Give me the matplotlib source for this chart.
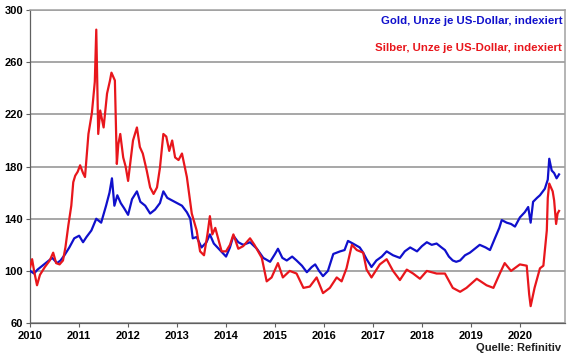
import matplotlib
matplotlib.use("Agg")
import matplotlib.pyplot as plt

# values (decimal years, index 2010 = 100)
gold_dates = [2010.0, 2010.08, 2010.15, 2010.25, 2010.35, 2010.45, 2010.55, 2010.62, 2010.7, 2010.8,
              2010.9, 2011.0, 2011.08, 2011.15, 2011.25, 2011.35, 2011.45, 2011.55, 2011.62, 2011.67,
              2011.72, 2011.78, 2011.85, 2011.92, 2012.0, 2012.08, 2012.18, 2012.25, 2012.35, 2012.45,
              2012.55, 2012.65, 2012.72, 2012.8, 2012.9, 2013.0, 2013.1, 2013.2, 2013.27, 2013.32,
              2013.4, 2013.5, 2013.6, 2013.67, 2013.75, 2013.85, 2014.0, 2014.08, 2014.15, 2014.25,
              2014.35, 2014.49, 2014.63, 2014.76, 2014.9, 2015.0, 2015.06, 2015.15, 2015.24, 2015.35,
              2015.44, 2015.55, 2015.65, 2015.75, 2015.82, 2015.9, 2015.98, 2016.08, 2016.19, 2016.33,
              2016.42, 2016.49, 2016.59, 2016.73, 2016.8, 2016.87, 2016.97, 2017.07, 2017.18, 2017.28,
              2017.41, 2017.55, 2017.65, 2017.76, 2017.9, 2018.0, 2018.1, 2018.2, 2018.3, 2018.4,
              2018.47, 2018.55, 2018.63, 2018.7, 2018.78, 2018.88, 2018.98, 2019.08, 2019.18, 2019.3,
              2019.39, 2019.49, 2019.58, 2019.63, 2019.73, 2019.82, 2019.9, 2020.0, 2020.1, 2020.17,
              2020.22, 2020.27, 2020.35, 2020.41, 2020.51, 2020.57, 2020.6, 2020.65, 2020.7, 2020.75,
              2020.8]
gold_values = [100, 98, 101, 104, 107, 110, 106, 108, 112, 118,
               125, 127, 122, 126, 131, 140, 137, 150, 160, 171,
               150, 158, 152, 148, 143, 155, 161, 153, 150, 144,
               147, 152, 161, 156, 154, 152, 150, 145, 140, 125,
               126, 118, 122, 128, 121, 117, 111, 118, 127, 122,
               120, 122, 117, 110, 107, 113, 117, 110, 108, 111,
               108, 104, 99, 103, 105, 100, 96, 100, 113, 115,
               116, 123, 121, 118, 114, 109, 103, 108, 111, 115,
               112, 110, 115, 118, 115, 119, 122, 120, 121, 118,
               116, 111, 108, 107, 108, 112, 114, 117, 120, 118,
               116, 125, 133, 139, 137, 136, 134, 141, 145, 149,
               137, 153, 156, 158, 163, 170, 186, 177, 175, 171,
               174]

silver_dates = [2010.0, 2010.04, 2010.08, 2010.14, 2010.2, 2010.3, 2010.4, 2010.47, 2010.53, 2010.6,
                2010.67, 2010.72, 2010.78, 2010.84, 2010.88, 2010.92, 2010.97, 2011.02, 2011.08, 2011.12,
                2011.19, 2011.26, 2011.32, 2011.35, 2011.39, 2011.43, 2011.5, 2011.57, 2011.63, 2011.66,
                2011.73, 2011.77, 2011.8, 2011.84, 2011.9, 2011.95, 2012.0, 2012.1, 2012.18, 2012.24,
                2012.3, 2012.38, 2012.45, 2012.52, 2012.59, 2012.65, 2012.72, 2012.78, 2012.84, 2012.9,
                2012.96, 2013.03, 2013.1, 2013.2, 2013.3, 2013.4, 2013.47, 2013.55, 2013.62, 2013.67,
                2013.72, 2013.78, 2013.91, 2014.0, 2014.08, 2014.15, 2014.25, 2014.35, 2014.49, 2014.58,
                2014.73, 2014.83, 2014.93, 2015.06, 2015.16, 2015.3, 2015.44, 2015.58, 2015.71, 2015.85,
                2015.98, 2016.12, 2016.26, 2016.36, 2016.46, 2016.57, 2016.67, 2016.8, 2016.87, 2016.97,
                2017.14, 2017.28, 2017.41, 2017.55, 2017.69, 2017.82, 2017.96, 2018.1, 2018.3, 2018.47,
                2018.63, 2018.78, 2018.91, 2019.12, 2019.32, 2019.46, 2019.59, 2019.69, 2019.82, 2020.0,
                2020.14, 2020.19, 2020.22, 2020.3, 2020.41, 2020.48, 2020.55, 2020.57, 2020.6, 2020.67,
                2020.7, 2020.74, 2020.77, 2020.8]
silver_values = [103, 109, 100, 89, 97, 103, 108, 114, 106, 105,
                 108, 118, 135, 150, 168, 173, 176, 181, 175, 172,
                 205, 221, 245, 285, 205, 223, 210, 236, 246, 252,
                 246, 182, 197, 205, 187, 180, 169, 200, 210, 195,
                 190, 177, 164, 159, 164, 179, 205, 203, 192, 200,
                 187, 185, 190, 172, 144, 131, 115, 112, 128, 142,
                 128, 133, 115, 115, 120, 128, 117, 119, 125, 120,
                 110, 92, 95, 106, 95, 100, 98, 87, 88, 95,
                 83, 87, 95, 92, 102, 120, 116, 114, 101, 95,
                 105, 109, 100, 93, 101, 98, 94, 100, 98, 98,
                 87, 84, 87, 94, 89, 87, 98, 106, 100, 105,
                 104, 82, 73, 87, 102, 104, 131, 156, 167, 161,
                 154, 136, 144, 146]

year_ticks = list(range(2010, 2021))
value_ticks = [60, 100, 140, 180, 220, 260, 300]

GOLD = "#1010cc"
SILVER = "#e8161c"

plt.rcParams["font.family"] = ["Liberation Sans", "DejaVu Sans"]
plt.rcParams["font.weight"] = "bold"

fig = plt.figure(figsize=(5.8, 3.59), dpi=100)
ax = fig.add_axes([0.052, 0.100, 0.922, 0.872])

ax.plot(gold_dates, gold_values, color=GOLD, lw=1.6, zorder=3)
ax.plot(silver_dates, silver_values, color=SILVER, lw=1.6, zorder=3)

ax.set_xlim(2010, 2020.92)
ax.set_ylim(60, 300)
ax.set_xticks(year_ticks)
ax.set_xticklabels([str(y) for y in year_ticks])
ax.set_yticks(value_ticks)
ax.tick_params(axis="both", labelsize=8, length=3, width=0.8, color="#606060", pad=2)
ax.tick_params(axis="x", pad=3)
for lab in ax.get_xticklabels() + ax.get_yticklabels():
    lab.set_fontweight("bold")

ax.yaxis.grid(True, color="#909090", lw=1.1)
ax.set_axisbelow(True)
for side in ["top", "right"]:
    ax.spines[side].set_color("#a0a0a0")
    ax.spines[side].set_linewidth(1.1)
for side in ["left", "bottom"]:
    ax.spines[side].set_color("#606060")
    ax.spines[side].set_linewidth(0.9)

ax.text(0.995, 0.965, "Gold, Unze je US-Dollar, indexiert", transform=ax.transAxes,
        ha="right", va="center", color=GOLD, fontsize=8.2, fontweight="bold")
ax.text(0.995, 0.878, "Silber, Unze je US-Dollar, indexiert", transform=ax.transAxes,
        ha="right", va="center", color=SILVER, fontsize=8.2, fontweight="bold")
fig.text(0.968, 0.018, "Quelle: Refinitiv", ha="right", va="bottom",
         fontsize=8, fontweight="bold", color="#202020")

fig.savefig("out.png", dpi=100)
